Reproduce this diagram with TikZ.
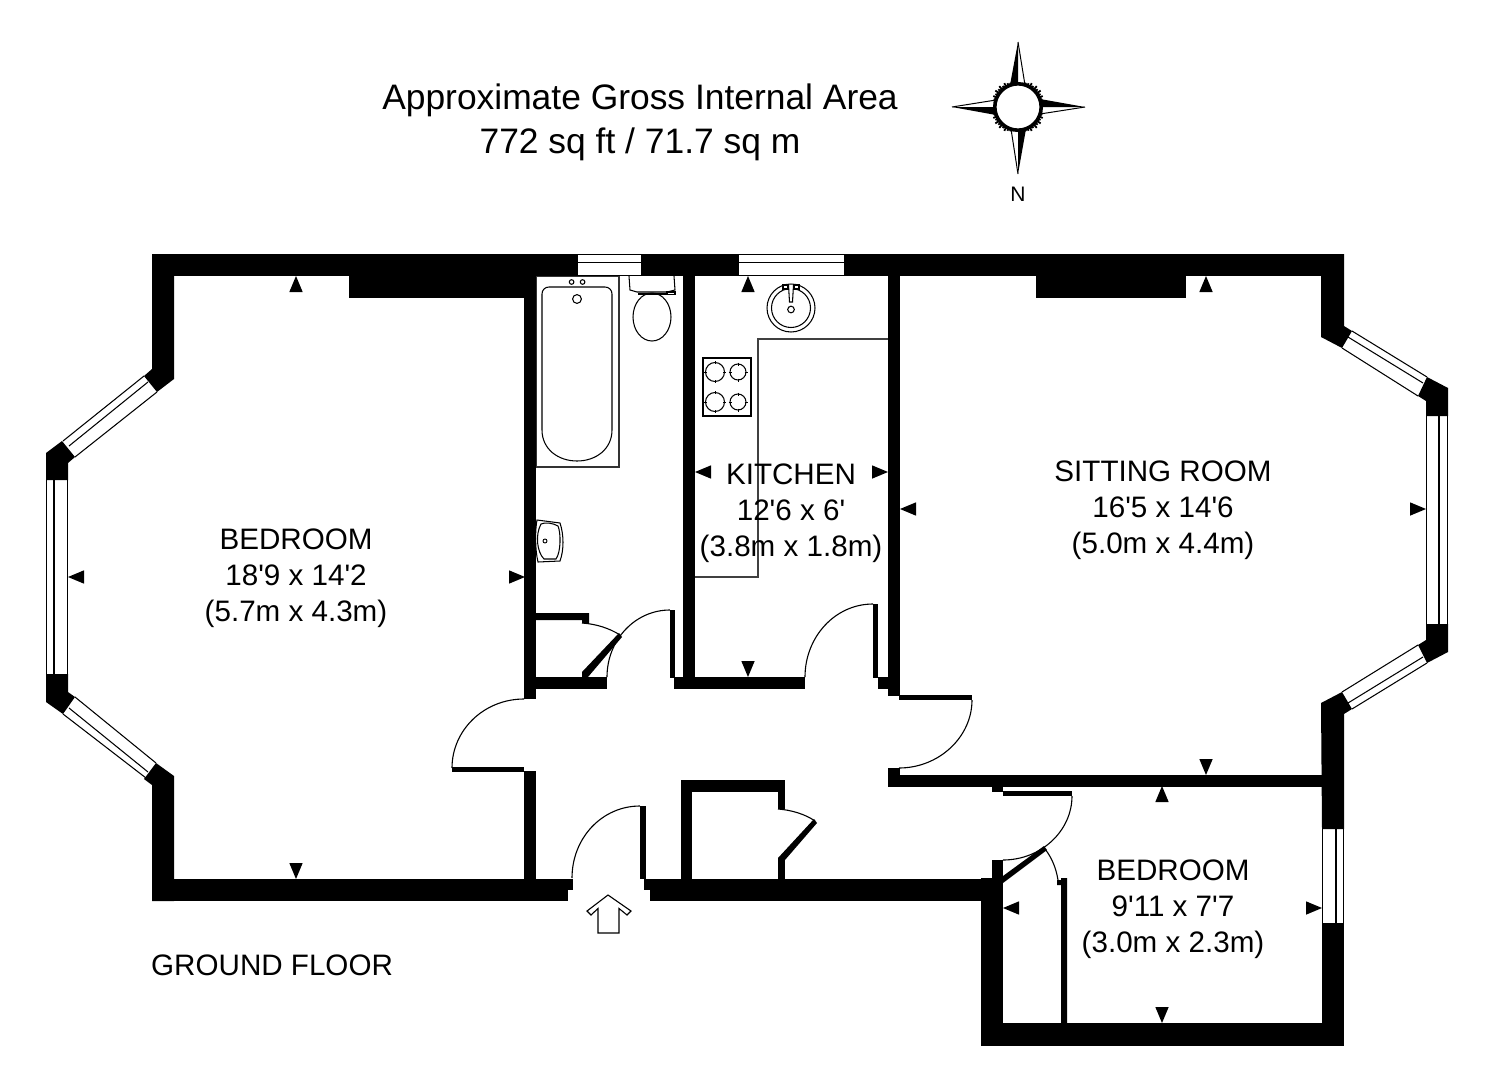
\documentclass[tikz,border=0pt]{standalone}
\usepackage{fontspec}
\newfontfamily\lab{Liberation Sans}
\tikzset{
  wall/.style={fill=black,draw=none},
  thin line/.style={draw=black,line width=1.05pt},
  fixture/.style={draw=black,line width=1.05pt,fill=white},
  swing/.style={draw=black,line width=1.1pt},
  leaf/.style={draw=black,line width=5pt},
  mark tri/.style={fill=black,draw=none},
  room/.style={font=\lab\fontsize{29.6}{36}\selectfont,align=center,inner sep=0pt,text=black},
  title/.style={font=\lab\fontsize{35.4}{44}\selectfont,align=center,inner sep=0pt,text=black}
}
\newcommand{\triU}[2]{\fill[mark tri] (#1,#2) -- (#1-6.7,#2+16) -- (#1+6.7,#2+16) -- cycle;}
\newcommand{\triD}[2]{\fill[mark tri] (#1,#2) -- (#1-6.7,#2-16) -- (#1+6.7,#2-16) -- cycle;}
\newcommand{\triL}[2]{\fill[mark tri] (#1,#2) -- (#1+16,#2-6.7) -- (#1+16,#2+6.7) -- cycle;}
\newcommand{\triR}[2]{\fill[mark tri] (#1,#2) -- (#1-16,#2-6.7) -- (#1-16,#2+6.7) -- cycle;}
\begin{document}
\begin{tikzpicture}[x=1pt,y=-1pt]
\path[use as bounding box,fill=white] (0,0) rectangle (1500,1087);

% ---- furniture under walls
% bath
\draw[thin line,draw=black!80] (536,276) rectangle (619,467);
\draw[thin line] (542,294) .. controls (542,290) and (545,287) .. (549,287) -- (605,287) .. controls (609,287) and (612,290) .. (612,294) -- (612,430) .. controls (612,449) and (596,461) .. (577,461) .. controls (558,461) and (542,449) .. (542,430) -- cycle;
\draw[thin line] (577,299) circle (4.4);
\draw[thin line] (571.6,282) circle (2.3);
\draw[thin line] (582.6,282) circle (2.3);
% wc
\draw[thin line] (629,276) -- (630,290) -- (637,292) -- (667,292) -- (675,290) -- (674,276);
\draw[thin line] (652,317) ellipse (19 and 24);
\draw[thin line] (638,294) -- (666,294);
\draw[thin line] (667,292) rectangle (675,294.5);
% hand basin
\draw[thin line] (537,520) -- (560,523) .. controls (564,535) and (564,550) .. (560,561) -- (538,562) .. controls (535,550) and (535,530) .. (537,520) -- cycle;
\draw[thin line] (541,524) .. controls (535,535) and (537,552) .. (544,559) -- (556,559) .. controls (561,552) and (561,533) .. (558,526) .. controls (553,523) and (545,522) .. (541,524) -- cycle;
\draw[line width=0.9pt] (545,541) circle (2);
% kitchen sink
\draw[thin line] (791,308) circle (24);
\draw[thin line] (791,308) circle (19.5);
\draw[thin line] (791,309.5) circle (3.3);
\fill[white] (788.5,285) rectangle (793.5,303);
\draw[thin line] (788.5,285) -- (789.5,302) -- (792.5,302) -- (793.5,285);
\draw[thin line] (783,285) rectangle (788,289);
\draw[thin line] (794,285) rectangle (799,289);
% worktop
\draw[draw=black!75,line width=1.3pt] (888,339) -- (758,339) -- (758,577) -- (695,577);
% hob
\draw[thin line] (703,358) rectangle (751,416);
\foreach \cx/\cy/\r in {715/372/9.5,738/372/8,715/402/9.5,738/402/8}{
  \draw[thin line] (\cx,\cy) circle (\r);
  \draw[line width=0.9pt] (\cx-\r-1.5,\cy) -- (\cx-\r+1.5,\cy) (\cx+\r-1.5,\cy) -- (\cx+\r+1.5,\cy) (\cx,\cy-\r-1.5) -- (\cx,\cy-\r+1.5) (\cx,\cy+\r-1.5) -- (\cx,\cy+\r+1.5);
}

% ---- windows
\foreach \a/\b/\c/\d in {578/254.4/641/254.4,578/262.5/641/262.5,578/275.6/641/275.6,
  739/254.4/844/254.4,739/262.5/844/262.5,739/275.6/844/275.6,
  144/376/63/441,148/382/69/446,157/392/75/457,
  46.6/480/46.6/674,54/480/54/674,67.6/480/67.6/674,
  63/714/146/778,69/708/148/772,75/697/156/763,
  1352/331/1427/377,1348/337/1423/383,1342/348/1418/396,
  1426.4/416/1426.4/624,1439/416/1439/624,1447.4/416/1447.4/624,
  1427/663/1352/709,1423/657/1348/703,1418/645/1342/692,
  1322.4/829/1322.4/923,1336/829/1336/923,1343.6/829/1343.6/923}{
  \draw[thin line] (\a,\b) -- (\c,\d);
}

% ---- outer walls
\fill[wall] (152,254) rectangle (578,276);
\fill[wall] (641,254) rectangle (739,276);
\fill[wall] (844,254) rectangle (1344,276);
\fill[wall] (349,276) rectangle (524,298);
\fill[wall] (1036,276) rectangle (1186,298);
\fill[wall] (152,254) -- (174,254) -- (174,379) -- (157,392) -- (144,376) -- (152,369) -- cycle;
\fill[wall] (62,441) -- (75,457) -- (68,463) -- (68,480) -- (46,480) -- (46,453) -- cycle;
\fill[wall] (46,674) -- (68,674) -- (68,692) -- (75,697) -- (63,714) -- (46,702) -- cycle;
\fill[wall] (156,763) -- (174,776) -- (174,901) -- (152,901) -- (152,785) -- (144,779) -- cycle;
\fill[wall] (152,879) rectangle (568,901);
\fill[wall] (568,879) rectangle (573,890);
\fill[wall] (650,879) rectangle (981,901);
\fill[wall] (644,879) rectangle (650,890);
\fill[wall] (1321,254) -- (1344,254) -- (1344,326) -- (1352,331) -- (1342,348) -- (1321,337) -- cycle;
\fill[wall] (1427,377) -- (1448,388) -- (1448,416) -- (1426,416) -- (1426,401) -- (1418,396) -- cycle;
\fill[wall] (1426,624) -- (1448,624) -- (1448,652) -- (1427,663) -- (1418,645) -- (1426,640) -- cycle;
\fill[wall] (1342,692) -- (1352,709) -- (1344,714) -- (1344,829) -- (1322,829) -- (1321,703) -- cycle;
\fill[wall] (1322,923) rectangle (1344,1046);
\fill[wall] (981,1023) rectangle (1344,1046);
\fill[wall] (981,878) rectangle (1003,1046);
\fill[wall] (992,860) rectangle (1003,878);

% ---- inner walls
\fill[wall] (524,276) rectangle (536,699);
\fill[wall] (524,771) rectangle (536,879);
\fill[wall] (536,613) -- (589,613) -- (589,623) -- (582,623) -- (582,620) -- (536,620) -- cycle;
\fill[wall] (536,677) rectangle (607,689);
\fill[wall] (683,276) rectangle (695,677);
\fill[wall] (674,677) rectangle (805,689);
\fill[wall] (878,677) rectangle (888,689);
\fill[wall] (888,276) rectangle (900,696);
\fill[wall] (888,768) rectangle (900,787);
\fill[wall] (900,775) rectangle (1322,787);
\fill[wall] (992,787) rectangle (1003,792);
\fill[wall] (681,780) rectangle (785,792);
\fill[wall] (681,780) rectangle (692,879);
\fill[wall] (778,780) rectangle (785,809);
\fill[wall] (778,858) rectangle (785,879);
\fill[wall] (1061,878) -- (1067,878) -- (1067,1023) -- (1061,1023) -- (1061,885) -- (1057,885) -- (1057,880) -- (1061,880) -- cycle;

% ---- door leaves
\fill[wall] (670,610) rectangle (675,678);
\fill[wall] (873,604) rectangle (878,678);
\fill[wall] (899,695) rectangle (972,700);
\fill[wall] (452,767) rectangle (524,772);
\fill[wall] (640,806) rectangle (646,879);
\fill[wall] (1003,791) rectangle (1072,796);
\fill[wall] (582,677) -- (582,672) -- (619,633) -- (622,637) -- (588,677) -- cycle;
\fill[wall] (778,858) -- (814,819) -- (817,823) -- (785,860) -- cycle;
\fill[wall] (1003,876) -- (1044,846) -- (1047,850) -- (1003,883) -- cycle;

% ---- door swings
\draw[swing] (670,610) .. controls (635,610) and (607,640) .. (607,677);
\draw[swing] (873,604) .. controls (835,604) and (805,637) .. (805,677);
\draw[swing] (972,700) .. controls (972,737) and (939,768) .. (899,768);
\draw[swing] (524,699) .. controls (484,699) and (452,730) .. (452,768);
\draw[swing] (640,806) .. controls (602,806) and (572,838) .. (572,878);
\draw[swing] (1072,796) .. controls (1072,831) and (1041,860) .. (1003,860);
\draw[swing] (582,623) .. controls (596,624) and (609,628) .. (620,635);
\draw[swing] (778,809) .. controls (791,810) and (805,814) .. (815,821);
\draw[swing] (1045,849) .. controls (1052,858) and (1056,868) .. (1058,880);

% ---- entry arrow
\draw[line width=1.1pt,fill=white] (608,895) -- (587,911) -- (591,915) -- (598,908.5) -- (598,933) -- (619,933) -- (619,908.5) -- (627,915) -- (631,911) -- cycle;

% ---- dimension markers
\triU{296}{276}\triD{296}{879}\triL{68}{577}\triR{525}{577}
\triU{748}{276}\triD{748}{677}\triL{695}{472}\triR{888}{472}
\triU{1206}{276}\triD{1206}{775}\triL{900}{509}\triR{1426}{509}
\triU{1162}{786}\triD{1162}{1023}\triL{1003}{908}\triR{1322}{908}

% ---- compass
\fill[black] (1018,42) -- (1010,85) -- (1018,85) -- cycle;
\draw[line width=1pt] (1018,42) -- (1025,85);
\fill[black] (1018,174) -- (1026,129) -- (1018,129) -- cycle;
\draw[line width=1pt] (1018,174) -- (1011,129);
\fill[black] (952,107) -- (996,115) -- (996,107) -- cycle;
\draw[line width=1pt] (952,107) -- (996,100);
\fill[black] (1085,107) -- (1040,99) -- (1040,107) -- cycle;
\draw[line width=1pt] (1085,107) -- (1040,114);
\foreach \ang/\len in {18/25.5,24/27,30/26,36/28,42/26.5,48/28,54/26,60/27.5,66/26,72/25.5,
  108/25.5,114/26,120/27.5,126/26,132/28,138/26.5,144/28,150/26,156/27,162/25.5,
  198/25.5,204/27,210/26,216/28,222/26.5,228/28,234/26,240/27.5,246/26,252/25.5,
  288/25.5,294/26,300/27.5,306/26,312/28,318/26.5,324/28,330/26,336/27,342/25.5}{
  \draw[line width=1.8pt] (1018,107) ++(\ang:21) -- ++(\ang:\len-21);
}
\draw[line width=3.6pt,fill=white] (1018,107) circle (23.2);

% ---- texts
\node[title] (area) at (640,122) {Approximate Gross Internal Area\\772 sq ft / 71.7 sq m};
\node[inner sep=0pt,font=\lab\fontsize{21}{23}\selectfont] (north) at (1018,194) {N};
\node[room] (bed1) at (296,578.5) {BEDROOM\\18'9 x 14'2\\(5.7m x 4.3m)};
\node[room] (kitchen) at (791,513.5) {KITCHEN\\12'6 x 6'\\(3.8m x 1.8m)};
\node[room] (sitting) at (1163,510.5) {SITTING ROOM\\16'5 x 14'6\\(5.0m x 4.4m)};
\node[room] (bed2) at (1173,909.5) {BEDROOM\\9'11 x 7'7\\(3.0m x 2.3m)};
\node[room,anchor=base west] (floor) at (151,975) {GROUND FLOOR};
\end{tikzpicture}
\end{document}
